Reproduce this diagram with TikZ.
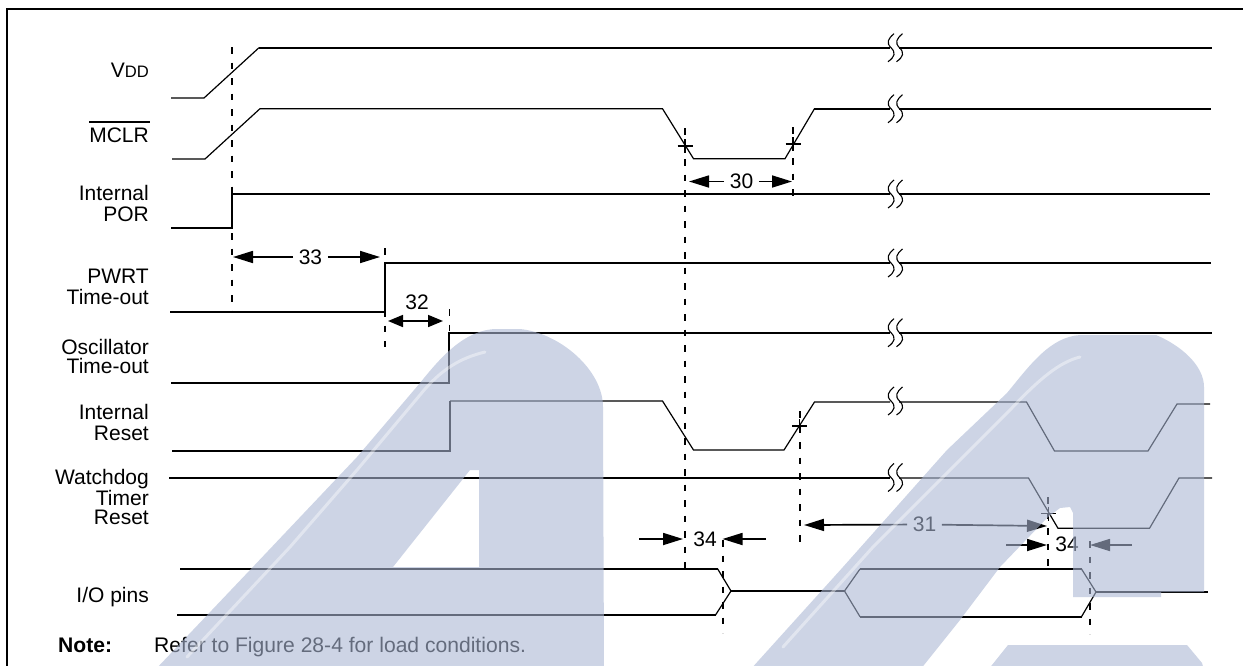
\documentclass[tikz,border=0pt]{standalone}
\usepackage{fontspec}
\setmainfont{Liberation Sans}
\usetikzlibrary{arrows.meta}
\definecolor{wm}{RGB}{170,183,212}
\tikzset{
  sigA/.style={draw=black,line width=1.9pt,line join=miter},
  sigB/.style={draw=black,line width=1.2pt,line join=miter},
  dashv/.style={draw=black,line width=1.9pt,dash pattern=on 6.5pt off 9pt},
  dim/.style={draw=black,line width=1.7pt,-{Triangle[length=20pt,width=12pt]}},
  brk/.style={draw=black,line width=1.1pt},
  tickm/.style={draw=black,line width=1.6pt},
  lbl/.style={anchor=base east,inner sep=0pt,align=right,font=\fontsize{21}{20.7}\selectfont},
  lbltight/.style={anchor=base east,inner sep=0pt,align=right,font=\fontsize{21}{19}\selectfont},
  num/.style={inner ysep=0pt,inner xsep=5.5pt,font=\fontsize{21}{20}\selectfont},
  note/.style={anchor=base west,inner sep=0pt,font=\fontsize{21.1}{20}\selectfont},
}
\newcommand{\plusmk}[2]{\draw[tickm] (#1-7.5,#2)--(#1+7.5,#2) (#1,#2-7)--(#1,#2+7);}
\newcommand{\wave}[2]{\draw[brk] (#1+3,#2-14) .. controls (#1-3,#2-9) and (#1-5,#2-5) .. (#1,#2) .. controls (#1+5,#2+5) and (#1+4,#2+9) .. (#1-3,#2+14);}
\newcommand{\brkmk}[1]{\wave{891}{#1}\wave{899.5}{#1}}
\begin{document}
\begin{tikzpicture}[x=1pt,y=-1pt]
\useasboundingbox (0,0) rectangle (1243,665);
\fill[white] (0,0) rectangle (1243,665);
\clip (0,0) rectangle (1243,665);
% frame
\draw[line width=2.2pt] (6.7,670) -- (6.7,9) -- (1250,9);
% VDD
\draw[sigB] (171,98) -- (204,98) -- (259,47.7);
\draw[sigA] (259,47.7) -- (890,47.7);
\draw[sigA] (899,47.7) -- (1212,47.7);
\brkmk{47.7}
% MCLR
\draw[sigB] (172,159) -- (205,159) -- (260,108.7) -- (662.5,108.7) -- (693.5,158.7) -- (785,158.7) -- (814.5,108.7);
\draw[sigA] (814,108.7) -- (890,108.7);
\draw[sigA] (899,108.7) -- (1211,108.7);
\brkmk{108.7}
% POR
\draw[sigA] (171,228) -- (232,228) -- (232,194) -- (890,194);
\draw[sigA] (899,194) -- (1210,194);
\brkmk{194}
% PWRT
\draw[sigA] (170,312) -- (385,312) -- (385,263) -- (890,263);
\draw[sigA] (899,263) -- (1211,263);
\brkmk{263}
% Oscillator
\draw[sigA] (171,382.7) -- (449,382.7) -- (449,332.7) -- (890,332.7);
\draw[sigA] (899,332.7) -- (1212,332.7);
\brkmk{332.7}
% Internal reset
\draw[sigA] (172,451) -- (450,451) -- (450,401);
\draw[sigB] (450,401) -- (662.5,401) -- (693.5,450) -- (784,450) -- (814.5,402) -- (890,402);
\draw[sigB] (899,402) -- (1026.5,402) -- (1054.5,451) -- (1148,451) -- (1177,404) -- (1210,404);
\brkmk{401}
% Watchdog
\draw[sigB] (169,478) -- (890,478);
\draw[sigB] (899,478) -- (1028.5,478) -- (1058,528.3) -- (1149.5,528.3) -- (1179,478) -- (1212,478);
\brkmk{477.5}
% I/O pins
\draw[sigA] (180,569) -- (717.7,569);
\draw[sigA] (177,615) -- (715.5,615);
\draw[sigB] (717.7,569) -- (731,591) -- (715.5,615);
\draw[sigA] (731,591) -- (844.5,591);
\draw[sigB] (844.5,591) -- (860,569);
\draw[sigB] (844.5,591) -- (860,616.7);
\draw[sigA] (860,569) -- (1081.5,569);
\draw[sigA] (860,616.7) -- (1081.5,616.7);
\draw[sigB] (1081.5,569) -- (1096,592) -- (1081.5,616.7);
\draw[sigA] (1096,592) -- (1208,592);
% dashed guides
\draw[dashv] (232,47) -- (232,312);
\draw[dashv] (385,248) -- (385,347);
\draw[dashv] (449.5,309) -- (449.5,333);
\draw[dashv] (684.7,128) -- (684.7,577);
\draw[dashv] (793,127) -- (793,203);
\draw[dashv] (800,411) -- (800,548);
\draw[dashv] (723,540) -- (723,633);
\draw[dashv] (1048,497) -- (1048,569);
\draw[dashv] (1090,541) -- (1090,634);
% marks
\plusmk{685}{146}
\plusmk{793}{144}
\plusmk{799.5}{426}
\plusmk{1048.5}{513.5}
% signal labels
\node[lbl] (lvdd) at (149,77) {V{\fontsize{16.6}{16}\selectfont DD}};
\node[lbl] (lmclr) at (149,142.5) {MCLR};
\draw[line width=2pt] (89,121.7) -- (150,121.7);
\node[lbl] (lpor) at (149,221) {Internal\\POR};
\node[lbl] (lpwrt) at (149,304.5) {PWRT\\Time-out};
\node[lbltight] (losc) at (149,373) {Oscillator\\Time-out};
\node[lbl] (lrst) at (149,440.5) {Internal\\Reset};
\node[lbltight] (lwdt) at (149,524.5) {Watchdog\\Timer\\Reset};
\node[lbl] (lio) at (149,602) {I/O pins};
\node[note] (lnote) at (58,652.7) {\bfseries Note:};
\node[note] (lref) at (154,652.7) {Refer to Figure 28-4 for load conditions.};
% timing labels and arrows
\node[num] (n33) at (310.5,257) {33};
\coordinate (t33l) at (233,257); \coordinate (t33r) at (380,257);
\draw[dim] (n33) -- (t33l); \draw[dim] (n33) -- (t33r);
\node[num] (n32) at (417,302) {32};
\coordinate (t32l) at (388,321); \coordinate (t32r) at (443,321);
\draw[dim,{Triangle[length=15pt,width=12pt]}-{Triangle[length=15pt,width=12pt]}] (t32l) -- (t32r);
\node[num] (n30) at (741.5,181.5) {30};
\coordinate (t30l) at (689,181.5); \coordinate (t30r) at (792,181.5);
\draw[dim] (n30) -- (t30l); \draw[dim] (n30) -- (t30r);
\node[num] (n34a) at (705,539) {34};
\coordinate (s34al) at (639,539); \coordinate (t34al) at (683,539);
\coordinate (s34ar) at (766,539); \coordinate (t34ar) at (722.5,539);
\draw[dim] (s34al) -- (t34al); \draw[dim] (s34ar) -- (t34ar);
\node[num] (n31) at (924.5,524.5) {31};
\coordinate (t31l) at (804,525); \coordinate (t31r) at (1047,526);
\draw[dim] (n31) -- (t31l); \draw[dim] (n31) -- (t31r);
\node[num] (n34b) at (1067,544) {34};
\coordinate (s34bl) at (1006,545); \coordinate (t34bl) at (1047,545);
\coordinate (s34br) at (1132,545); \coordinate (t34br) at (1090,545);
\draw[dim] (s34bl) -- (t34bl); \draw[dim] (s34br) -- (t34br);
% watermark overlay
\fill[wm,fill opacity=0.59,even odd rule]
  (155,670) -- (250,570) -- (357,457) -- (420,383) .. controls (440,358) and (465,329) .. (497,329)
  -- (520,329) .. controls (560,333) and (603,370) .. (603,407) -- (604,670) -- cycle
  (470,470) -- (479,470) -- (479,567) -- (393,567) -- cycle;
\fill[wm,fill opacity=0.59]
  (750,670) -- (843,567) -- (947,450) -- (1007,393) .. controls (1030,365) and (1050,337) .. (1080,335)
  -- (1156,335) .. controls (1180,345) and (1204,365) .. (1204,387) -- (1204,592) -- (1161,592) -- (1161,597) -- (1073,597)
  -- (1073,513) -- (1070,507) -- (1060,508) -- (1048,517) -- (1000,567) -- (960,620) -- (920,670) -- cycle;
\fill[wm,fill opacity=0.59]
  (988,670) -- (1008,645) -- (1187,645) -- (1202,663) -- (1204,670) -- cycle;
% highlights
\draw[white,opacity=0.4,line width=3pt,line cap=round] (187,657) -- (290,547) -- (357,470) -- (420,395) .. controls (440,370) and (460,358) .. (485,352);
\draw[white,opacity=0.4,line width=3pt,line cap=round] (783,647) -- (873,547) -- (960,460) -- (1010,410) .. controls (1040,378) and (1060,362) .. (1080,357);
\end{tikzpicture}
\end{document}
